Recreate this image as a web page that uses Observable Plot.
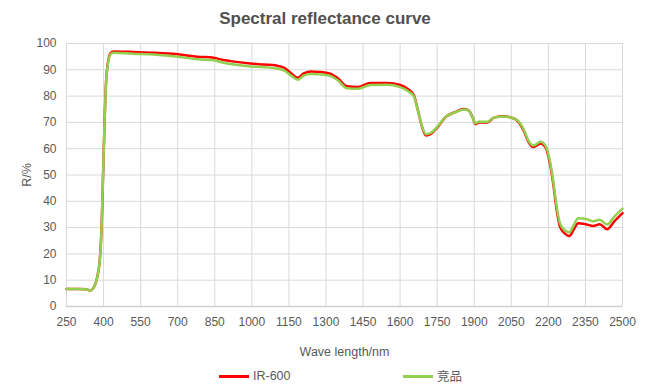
<!DOCTYPE html>
<html>
<head>
<meta charset="utf-8">
<script src="https://cdn.jsdelivr.net/npm/d3@7"></script>
<script src="https://cdn.jsdelivr.net/npm/@observablehq/plot@0.6"></script>
<style>
  html, body { margin: 0; padding: 0; background: #fff; }
  body { width: 650px; height: 389px; overflow: hidden; font-family: "Liberation Sans", Arial, sans-serif; }
  #title { height: 34px; line-height: 38px; text-align: center; font-size: 17px; font-weight: bold; color: #505050; }
  #legend { height: 25px; position: relative; font-size: 12.5px; color: #595959; }
  .item { position: absolute; top: 5px; height: 14px; }
  .sw { position: absolute; left: 0; top: 6px; width: 30px; height: 3px; }
  .lbl { position: absolute; left: 34px; top: 0; line-height: 14px; height: 14px; white-space: nowrap; }
  svg g[aria-label="x-axis label"] text, svg g[aria-label="y-axis label"] text { font-size: 12.5px; }
</style>
</head>
<body>
<div id="title">Spectral reflectance curve</div>
<div id="chart"></div>
<div id="legend"></div>
<script>
const wavelengths = [250, 300, 330, 345, 360, 375, 385, 392, 398, 404, 410, 418, 428, 440, 520, 600, 700, 780, 846, 880, 914, 995, 1050, 1100, 1130, 1160, 1186, 1210, 1240, 1270, 1317, 1350, 1385, 1430, 1480, 1548, 1600, 1630, 1655, 1672, 1688, 1705, 1725, 1750, 1785, 1820, 1858, 1878, 1893, 1905, 1920, 1935, 1953, 1980, 2020, 2050, 2075, 2100, 2120, 2139, 2169, 2189, 2207, 2220, 2234, 2247, 2267, 2285, 2301, 2321, 2354, 2381, 2408, 2437, 2468, 2500];
const ir600 = [6.7, 6.7, 6.6, 6.1, 7.2, 11.5, 18, 30, 50, 70, 85, 93, 96.3, 97.0, 96.8, 96.5, 95.9, 95.0, 94.6, 93.8, 93.3, 92.4, 92.0, 91.6, 90.8, 88.6, 87.0, 88.6, 89.4, 89.2, 88.5, 86.6, 83.7, 83.5, 85.0, 85.0, 84.2, 82.8, 80.5, 74.6, 68.5, 65.0, 65.6, 68.0, 72.1, 73.8, 75.1, 74.5, 72.0, 69.3, 70.0, 70.0, 70.0, 71.8, 72.3, 71.8, 70.6, 66.9, 62.5, 60.6, 62.0, 60.4, 54.0, 46.5, 36.5, 30.4, 27.7, 26.8, 29.0, 31.7, 31.2, 30.6, 31.3, 29.4, 32.5, 35.5];
const competitor = [6.7, 6.7, 6.6, 6.1, 7.2, 11.5, 18, 30, 50, 70, 85, 92.5, 95.8, 96.5, 96.1, 95.8, 95.0, 94.0, 93.6, 92.8, 92.2, 91.3, 91.0, 90.5, 89.8, 87.7, 86.2, 87.8, 88.4, 88.3, 87.7, 85.8, 83.0, 82.8, 84.2, 84.3, 83.4, 82.0, 80.0, 74.5, 68.8, 65.5, 66.0, 68.3, 72.2, 73.7, 74.9, 74.4, 72.0, 69.7, 70.3, 70.2, 70.2, 71.9, 72.2, 71.8, 70.8, 67.4, 63.0, 61.2, 62.6, 61.0, 55.0, 47.5, 37.8, 31.6, 29.0, 28.2, 30.6, 33.6, 33.3, 32.4, 33.0, 31.2, 34.3, 37.2];
const seriesNames = ["IR-600", "竞品"];
const seriesColors = ["#ff0000", "#92d050"];
const xTicks = d3.range(250, 2501, 150);
const yTicks = d3.range(0, 101, 10);

const rows = [];
wavelengths.forEach((w, i) => {
  rows.push({w, r: ir600[i], s: seriesNames[0]});
});
wavelengths.forEach((w, i) => {
  rows.push({w, r: competitor[i], s: seriesNames[1]});
});

const chart = Plot.plot({
  width: 650,
  height: 330,
  marginLeft: 66,
  marginRight: 28,
  marginTop: 9,
  marginBottom: 58,
  style: {fontFamily: "Liberation Sans, Arial, sans-serif", fontSize: "12px", color: "#595959", background: "#fff"},
  x: {domain: [250, 2500], ticks: xTicks, tickFormat: d3.format("d"), tickSize: 0, tickPadding: 11, label: "Wave length/nm", labelAnchor: "center", labelArrow: "none", labelOffset: 49},
  y: {domain: [0, 100], ticks: yTicks, tickFormat: d3.format("d"), tickSize: 0, tickPadding: 10, label: "R/%", labelAnchor: "center", labelArrow: "none", labelOffset: 44},
  color: {domain: seriesNames, range: seriesColors},
  marks: [
    Plot.gridX(xTicks, {stroke: "#d9d9d9", strokeOpacity: 1}),
    Plot.gridY(yTicks, {stroke: "#d9d9d9", strokeOpacity: 1}),
    Plot.ruleY([0], {stroke: "#d0d0d0", strokeWidth: 1.5}),
    Plot.lineY(rows, {x: "w", y: "r", z: "s", stroke: "s", strokeWidth: 2.5, curve: "monotone-x"})
  ]
});
document.getElementById("chart").appendChild(chart);

const legend = document.getElementById("legend");
const lefts = [219, 403];
seriesNames.forEach((n, i) => {
  const it = document.createElement("div");
  it.className = "item";
  it.style.left = lefts[i] + "px";
  const sw = document.createElement("span");
  sw.className = "sw";
  sw.style.background = seriesColors[i];
  const t = document.createElement("span");
  t.className = "lbl";
  t.textContent = n;
  if (i === 1) t.style.fontFamily = "'Noto Sans CJK SC', sans-serif";
  it.appendChild(sw);
  it.appendChild(t);
  legend.appendChild(it);
});
</script>
</body>
</html>
